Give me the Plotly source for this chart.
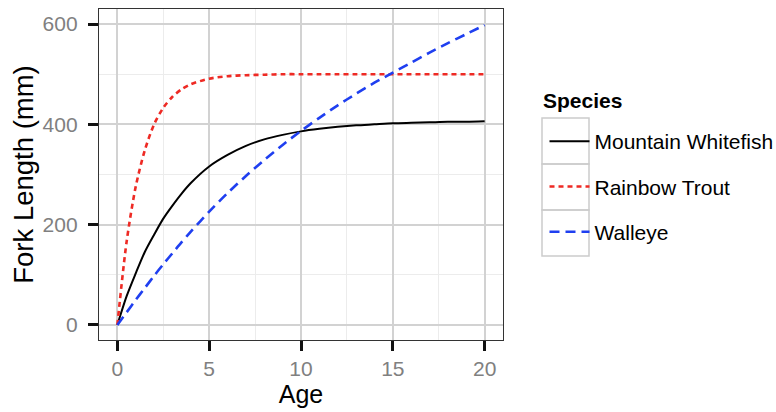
import plotly.graph_objects as go

# Fork length at age for three species (values read at selected ages)
ages = [0, 0.5, 1, 1.5, 2, 2.5, 3, 3.5, 4, 5, 6, 7, 8, 9, 10,
        11, 12, 13, 14, 15, 16, 17, 18, 19, 20]
mountain_whitefish = [0, 57, 103, 146, 180, 212, 238, 262, 283, 316, 339, 357, 370, 379, 386,
                      391, 395, 398, 400, 402, 403, 404, 405, 405, 406]
rainbow_trout = [0, 165, 276, 349, 400, 433, 455, 470, 480, 491, 496, 498, 499, 500, 500,
                 500, 500, 500, 500, 500, 500, 500, 500, 500, 500]
walleye = [0, 25, 50, 74, 98, 121, 143, 165, 186, 226, 263, 297, 329, 359, 387,
           413, 438, 461, 483, 503, 523, 543, 562, 580, 598]

species = ["Mountain Whitefish", "Rainbow Trout", "Walleye"]
x_ticks = [0, 5, 10, 15, 20]
y_ticks = [0, 200, 400, 600]

FONT = "Liberation Sans, Arial, sans-serif"
W, H = 776, 412
ML, MR, MT, MB = 99, 273, 9, 72

styles = {
    "Mountain Whitefish": dict(color="#000000", width=2, dash="solid"),
    "Rainbow Trout": dict(color="#ee2a24", width=2.6, dash="5px,4px"),
    "Walleye": dict(color="#1f3ff0", width=2.6, dash="10px,6px"),
}
series = {
    "Mountain Whitefish": mountain_whitefish,
    "Rainbow Trout": rainbow_trout,
    "Walleye": walleye,
}

fig = go.Figure()
for name in species:
    fig.add_trace(go.Scatter(
        x=ages, y=series[name], mode="lines", name=name, legendgroup=name,
        line=dict(shape="spline", smoothing=0.8, **styles[name]),
    ))

axis_common = dict(
    showline=True, mirror=True, linecolor="#333333", linewidth=1.3,
    ticks="outside", ticklen=10, tickwidth=2.6, tickcolor="#111111",
    showgrid=True, gridcolor="#d2d2d2", gridwidth=2, zeroline=False,
    tickfont=dict(family=FONT, size=21, color="#808080"),
)

fig.update_xaxes(
    range=[-1, 21], tickvals=x_ticks,
    minor=dict(dtick=2.5, tick0=0, showgrid=True, gridcolor="#ececec", gridwidth=1, ticks=""),
    title=dict(text="Age", font=dict(family=FONT, size=25, color="#000000"), standoff=4),
    **axis_common,
)
fig.update_yaxes(
    range=[-30, 630], tickvals=y_ticks, ticklabelstandoff=6,
    minor=dict(dtick=100, tick0=0, showgrid=True, gridcolor="#ececec", gridwidth=1, ticks=""),
    title=dict(text="Fork Length (mm)", font=dict(family=FONT, size=27.5, color="#000000"), standoff=0),
    **axis_common,
)

pw, ph = W - ML - MR, H - MT - MB


def px_x(p):
    return (p - ML) / pw


def px_y(p):
    return (H - MB - p) / ph


# Key boxes behind the legend entries
shapes = []
box_left, box_right, box_top, box_h = 542, 589, 118, 46
for i in range(len(species)):
    shapes.append(dict(
        type="rect", xref="paper", yref="paper",
        x0=px_x(box_left), x1=px_x(box_right),
        y0=px_y(box_top + box_h * (i + 1)), y1=px_y(box_top + box_h * i),
        line=dict(color="#cccccc", width=1.5), fillcolor="rgba(0,0,0,0)", layer="below",
    ))

fig.update_layout(
    width=W, height=H,
    margin=dict(l=ML, r=MR, t=MT, b=MB, autoexpand=False),
    paper_bgcolor="white", plot_bgcolor="white",
    shapes=shapes,
    showlegend=True,
    legend=dict(
        x=px_x(544.5), y=px_y(121), xanchor="left", yanchor="top",
        font=dict(family=FONT, size=21, color="#000000"),
        itemwidth=40, tracegroupgap=15, bgcolor="rgba(0,0,0,0)",
        traceorder="grouped",
    ),
    annotations=[dict(
        text="<b>Species</b>", xref="paper", yref="paper",
        x=px_x(541), y=px_y(100), xanchor="left", yanchor="middle",
        showarrow=False, font=dict(family=FONT, size=21, color="#000000"),
    )],
)

fig.write_html("out.html")
